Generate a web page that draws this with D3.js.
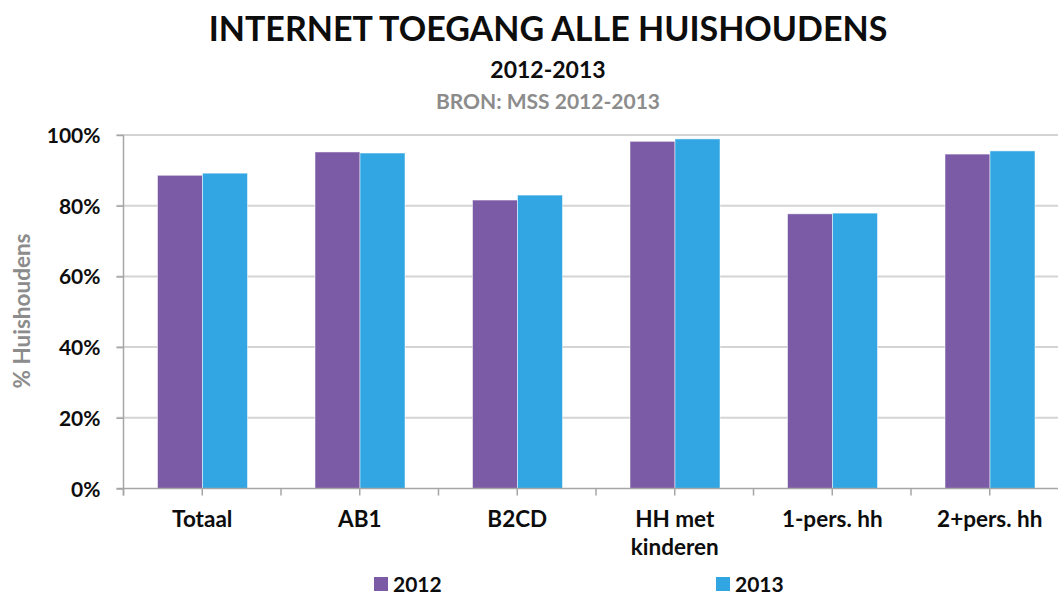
<!DOCTYPE html>
<html lang="nl">
<head>
  <meta charset="UTF-8">
  <script src="https://d3js.org/d3.v7.min.js"></script>
  <style>
    body { margin: 0; background: #fff; }
    svg { display: block; font-family: Lato, "Noto Sans", sans-serif; font-weight: bold; }
    .grid line { stroke: #d4d4d4; stroke-width: 2; }
    .axis path, .axis line { stroke: #a6a6a6; stroke-width: 1.5; }
  </style>
</head>
<body>
  <div id="chart"></div>
  <script>
    // data
    var categories = ["Totaal", "AB1", "B2CD", "HH met kinderen", "1-pers. hh", "2+pers. hh"];
    var catLines = [["Totaal"], ["AB1"], ["B2CD"], ["HH met", "kinderen"], ["1-pers. hh"], ["2+pers. hh"]];
    var series = ["2012", "2013"];
    var values2012 = [0.886, 0.952, 0.816, 0.982, 0.777, 0.946];
    var values2013 = [0.892, 0.949, 0.830, 0.989, 0.779, 0.955];
    var yTicks = [0, 0.2, 0.4, 0.6, 0.8, 1.0];
    var colors = ["#7b5aa6", "#31a6e3"];

    var width = 1058, height = 597;
    var plotLeft = 123.5, plotRight = 1068.5, plotTop = 135, plotBottom = 488.5;

    var svg = d3.select("#chart").append("svg")
      .attr("width", width)
      .attr("height", height);

    // titles
    svg.append("text").attr("x", 548).attr("y", 41)
      .attr("text-anchor", "middle").attr("font-size", 34).attr("fill", "#0d0d0d")
      .text("INTERNET TOEGANG ALLE HUISHOUDENS");
    svg.append("text").attr("x", 548).attr("y", 78)
      .attr("text-anchor", "middle").attr("font-size", 23).attr("fill", "#0d0d0d")
      .text("2012-2013");
    svg.append("text").attr("x", 548).attr("y", 109)
      .attr("text-anchor", "middle").attr("font-size", 21).attr("fill", "#8c8c8c")
      .text("BRON: MSS 2012-2013");

    var x = d3.scaleBand().domain(categories).range([plotLeft, plotRight]).paddingInner(0).paddingOuter(0);
    var x1 = d3.scaleBand().domain(series).range([34, x.bandwidth() - 33.5]);
    var y = d3.scaleLinear().domain([0, 1]).range([plotBottom, plotTop]);

    // gridlines
    svg.append("g").attr("class", "grid")
      .selectAll("line")
      .data(yTicks.slice(1))
      .enter().append("line")
      .attr("x1", plotLeft - 7).attr("x2", plotRight)
      .attr("y1", function (d) { return y(d); })
      .attr("y2", function (d) { return y(d); });

    // bars
    var groups = svg.append("g").selectAll("g")
      .data(categories)
      .enter().append("g")
      .attr("transform", function (d) { return "translate(" + x(d) + ",0)"; });

    groups.selectAll("rect")
      .data(function (d, i) { return [values2012[i], values2013[i]]; })
      .enter().append("rect")
      .attr("x", function (d, j) { return x1(series[j]); })
      .attr("width", x1.bandwidth())
      .attr("y", function (d) { return y(d); })
      .attr("height", function (d) { return y(0) - y(d); })
      .attr("fill", function (d, j) { return colors[j]; })
      .attr("stroke", "#fff").attr("stroke-opacity", 0.5).attr("stroke-width", 1);

    // y axis
    var yAxis = svg.append("g").attr("class", "axis")
      .attr("transform", "translate(" + plotLeft + ",0)")
      .call(d3.axisLeft(y).tickValues(yTicks).tickFormat(d3.format(".0%")).tickSize(7).tickSizeOuter(0));
    yAxis.selectAll("text").attr("font-size", 21).attr("fill", "#0d0d0d")
      .attr("x", -23).attr("dy", "0.36em");
    yAxis.attr("font-family", null).attr("font-size", null);
    yAxis.select(".domain").attr("d", "M0," + plotTop + "V" + (plotBottom + 7));

    // x axis line + ticks at every half band
    var halfTicks = d3.range(categories.length * 2 + 1).map(function (i) { return plotLeft + i * x.bandwidth() / 2; });
    var xAxis = svg.append("g").attr("class", "axis");
    xAxis.append("line").attr("x1", plotLeft - 7).attr("x2", plotRight).attr("y1", plotBottom).attr("y2", plotBottom);
    xAxis.selectAll(".tk").data(halfTicks).enter().append("line")
      .attr("class", "tk")
      .attr("x1", function (d) { return d; }).attr("x2", function (d) { return d; })
      .attr("y1", plotBottom).attr("y2", plotBottom + 7);

    // category labels
    var lab = svg.append("g").selectAll("text")
      .data(categories)
      .enter().append("text")
      .attr("text-anchor", "middle")
      .attr("font-size", 22.5).attr("fill", "#0d0d0d")
      .attr("transform", function (d) { return "translate(" + (x(d) + x.bandwidth() / 2) + ",527)"; });
    lab.selectAll("tspan")
      .data(function (d, i) { return catLines[i]; })
      .enter().append("tspan")
      .attr("x", 0).attr("dy", function (d, k) { return k === 0 ? 0 : 28; })
      .text(function (d) { return d; });

    // y label
    svg.append("text")
      .attr("transform", "translate(30,311) rotate(-90)")
      .attr("text-anchor", "middle").attr("font-size", 22.5).attr("fill", "#8c8c8c")
      .text("% Huishoudens");

    // legend
    var legX = [374, 716];
    var leg = svg.append("g").selectAll("g")
      .data(series)
      .enter().append("g")
      .attr("transform", function (d, i) { return "translate(" + legX[i] + ",577)"; });
    leg.append("rect").attr("width", 14).attr("height", 14)
      .attr("fill", function (d, i) { return colors[i]; });
    leg.append("text").attr("x", 19).attr("y", 14.5)
      .attr("font-size", 21).attr("fill", "#0d0d0d")
      .text(function (d) { return d; });
  </script>
</body>
</html>
